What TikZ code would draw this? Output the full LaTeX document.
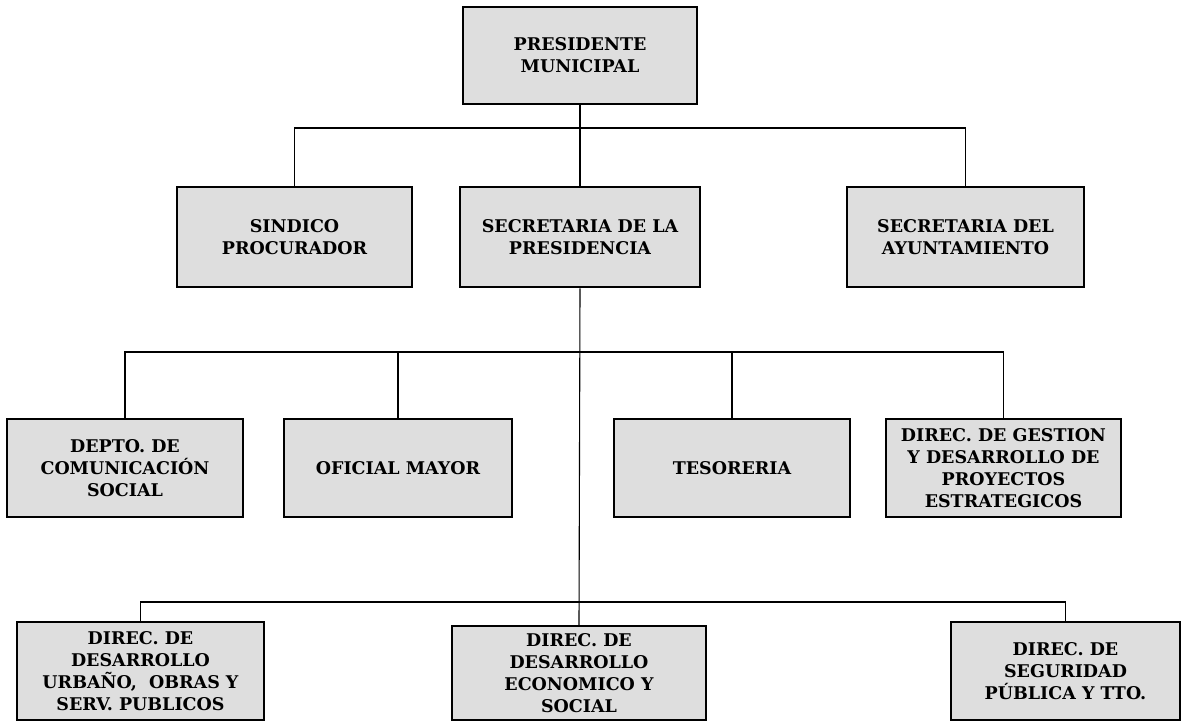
\documentclass[tikz,border=0pt]{standalone}
\usepackage{fontspec}
\setmainfont{DejaVu Serif}
\tikzset{
    unit/.style = {draw, line width = 2.5pt, fill = black!13, inner sep = 0pt,
        minimum height = 98pt, align = center,
        font = \fontsize{17.5}{22}\selectfont\bfseries},
    every path/.style = {line width = 1.1pt}
}

\begin{document}
\begin{tikzpicture}[x = 1pt, y = -1pt]
    \useasboundingbox (0, 0) rectangle (1186, 724);

    \node[unit, minimum width = 234pt, minimum height = 97pt] (pres) at (580, 55.5) {PRESIDENTE\\MUNICIPAL};

    \node[unit, minimum width = 235pt, minimum height = 100pt] (sind) at (294.5, 237) {SINDICO\\PROCURADOR};
    \node[unit, minimum width = 240pt, minimum height = 100pt] (secp) at (580, 237) {SECRETARIA DE LA\\PRESIDENCIA};
    \node[unit, minimum width = 237pt, minimum height = 100pt] (ayun) at (965.5, 237) {SECRETARIA DEL\\AYUNTAMIENTO};

    \node[unit, minimum width = 236pt] (depto) at (125, 468) {DEPTO. DE\\COMUNICACIÓN\\SOCIAL};
    \node[unit, minimum width = 228pt] (ofic) at (398, 468) {OFICIAL MAYOR};
    \node[unit, minimum width = 236pt] (teso) at (732, 468) {TESORERIA};
    \node[unit, minimum width = 235pt] (gest) at (1003.5, 468) {DIREC. DE GESTION\\Y DESARROLLO DE\\PROYECTOS\\ESTRATEGICOS};

    \node[unit, minimum width = 247pt] (urb) at (140.5, 671) {DIREC. DE\\DESARROLLO\\URBAÑO,\ \ OBRAS Y\\SERV. PUBLICOS};
    \node[unit, minimum width = 254pt, minimum height = 94pt] (eco) at (579, 673) {DIREC. DE\\DESARROLLO\\ECONOMICO Y\\SOCIAL};
    \node[unit, minimum width = 229pt] (seg) at (1065.5, 671) {DIREC. DE\\SEGURIDAD\\PÚBLICA Y TTO.};

    \coordinate (bus1) at (580, 128);
    \coordinate (bus2) at (580, 352);
    \coordinate (bus3) at (580, 602);

    \draw (pres.south) -- (secp.north);
    \draw (secp.south) -- (eco.north);
    \draw (sind.north) |- (bus1) -| (ayun.north);
    \draw (depto.north) |- (bus2) -| (gest.north);
    \draw (bus2) -| (ofic.north);
    \draw (bus2) -| (teso.north);
    \draw (urb.north) |- (bus3) -| (seg.north);
\end{tikzpicture}
\end{document}
